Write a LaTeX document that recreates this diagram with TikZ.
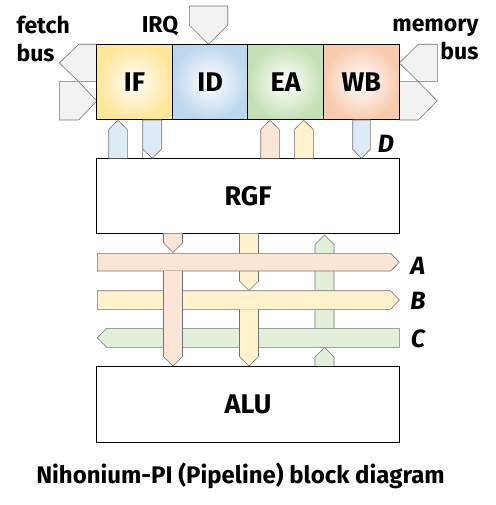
\documentclass[tikz,border=0pt]{standalone}
\usepackage{fontspec}
\setmainfont{Fira Sans}
\usepackage{tikz}
\usetikzlibrary{positioning}
\usepackage{xcolor}
\definecolor{peach}{HTML}{FBE5D6}
\definecolor{cream}{HTML}{FFF2CC}
\definecolor{mint}{HTML}{E2F0D9}
\definecolor{sky}{HTML}{DEEBF7}
\definecolor{ash}{HTML}{F2F2F2}
\definecolor{ifedge}{HTML}{FFE699}
\definecolor{idedge}{HTML}{BDD7EE}
\definecolor{eaedge}{HTML}{C5E0B4}
\definecolor{wbedge}{HTML}{F8CBAD}

\begin{document}
\begin{tikzpicture}[%
    x=1pt,
    y=-1pt,
    stage/.style={%
      rectangle,
      minimum width=75.6pt,
      minimum height=75.7pt,
      outer sep=0pt,
      draw,
      line width=1pt,
      inner color=white,
      font=\fontsize{27}{27}\selectfont\bfseries
    },
    unit/.style={%
      rectangle,
      minimum width=302.6pt,
      outer sep=0pt,
      draw,
      fill=white,
      line width=1pt,
      font=\fontsize{27}{27}\selectfont\bfseries
    },
    pipe/.style={%
      draw=black!55,
      line width=0.6pt,
      line join=miter
    },
    tag/.style={%
      font=\fontsize{25}{25}\selectfont\bfseries\itshape
    },
    side/.style={%
      font=\fontsize{23}{28}\selectfont\bfseries
    }
  ]
    \useasboundingbox (0,0) rectangle (495,505);

    % fetch bus and memory bus
    \draw[pipe, fill=ash] (96.7,44.3) -- (78.7,44.3) -- (59.3,63) -- (78.7,81.7) -- (96.7,81.7);
    \draw[pipe, fill=ash] (59.3,81.7) -- (78.7,81.7) -- (96.7,101) -- (78.7,120) -- (59.3,120) -- cycle;
    \draw[pipe, fill=ash] (399.3,63) -- (418.3,44.3) -- (437.3,44.3) -- (437.3,81.7) -- (418.3,81.7) -- cycle;
    \draw[pipe, fill=ash] (399.3,81.7) -- (418.3,81.7) -- (437.3,101) -- (418.3,120) -- (399.3,120);
    \draw[pipe, fill=ash] (189.3,6) -- (227.7,6) -- (227.7,25) -- (208.5,44.3) -- (189.3,25) -- cycle;

    \node[stage, outer color=ifedge] (IF) at (134.5,82.1) {IF};
    \node[stage, outer color=idedge, right=0pt of IF] (ID) {ID};
    \node[stage, outer color=eaedge, right=0pt of ID] (EA) {EA};
    \node[stage, outer color=wbedge, right=0pt of EA] (WB) {WB};

    \node[side, align=left, anchor=west] (fetch) at (13,39) {fetch\\bus};
    \node[side, align=right, anchor=east] (memory) at (482,39) {memory\\bus};
    \node[side] (irq) at (160,26) {IRQ};

    \node[unit, minimum height=75pt] (RGF) at (248,195.8) {RGF};
    \node[unit, minimum height=76pt] (ALU) at (248,404) {ALU};

    % stage <-> RGF
    \draw[pipe, fill=sky] (108.7,158.3) -- (108.7,129.5) -- (118,120.3) -- (127.3,129.5) -- (127.3,158.3);
    \draw[pipe, fill=sky] (142.7,158.3) -- (142.7,120) -- (161.7,120) -- (161.7,149) -- (152.2,158.3) -- (142.7,149) -- (142.7,158.3);
    \draw[pipe, fill=peach] (260.7,158.3) -- (260.7,129.5) -- (270,120.3) -- (279.3,129.5) -- (279.3,158.3);
    \draw[pipe, fill=cream] (294.3,158.3) -- (294.3,129.5) -- (303.8,120.3) -- (313.3,129.5) -- (313.3,158.3);
    \draw[pipe, fill=sky] (352.7,120) -- (370.3,120) -- (370.3,149.3) -- (361.5,158.3) -- (352.7,149.3) -- cycle;
    \node[tag] (D) at (386,144) {D};

    % RGF -> buses
    \draw[pipe, fill=peach] (163.5,233.3) -- (163.5,243) -- (173,252.5) -- (182.5,243) -- (182.5,233.3);
    \draw[pipe, fill=cream] (239.5,233.3) -- (239.5,281) -- (249,290.5) -- (258.5,281) -- (258.5,233.3);
    \draw[pipe, fill=mint] (315,328.3) -- (315,244.5) -- (324.5,235) -- (334,244.5) -- (334,328.3);

    % buses A, B, C
    \draw[pipe, fill=peach] (97.3,253.3) -- (390.7,253.3) -- (399.3,262.2) -- (390.7,271) -- (97.3,271) -- cycle;
    \draw[pipe, fill=cream] (97.3,290.7) -- (390.7,290.7) -- (399.3,300) -- (390.7,309.3) -- (97.3,309.3) -- cycle;
    \draw[pipe, fill=mint] (399.3,328.3) -- (106.7,328.3) -- (97.3,337.8) -- (106.7,347.3) -- (399.3,347.3) -- cycle;
    \node[tag] (A) at (418,266) {A};
    \node[tag] (B) at (418,301) {B};
    \node[tag] (C) at (418,339) {C};

    % buses -> ALU
    \draw[pipe, fill=peach] (163.5,271) -- (163.5,356.5) -- (173,366) -- (182.5,356.5) -- (182.5,271);
    \draw[pipe, fill=cream] (239.5,309.3) -- (239.5,356.5) -- (249,366) -- (258.5,356.5) -- (258.5,309.3);
    \draw[pipe, fill=mint] (315,366) -- (315,357) -- (324.5,347.5) -- (334,357) -- (334,366);

    \node[font=\fontsize{24}{24}\selectfont\bfseries] (title) at (240.5,476) {Nihonium-PI (Pipeline) block diagram};
  \end{tikzpicture}
\end{document}
